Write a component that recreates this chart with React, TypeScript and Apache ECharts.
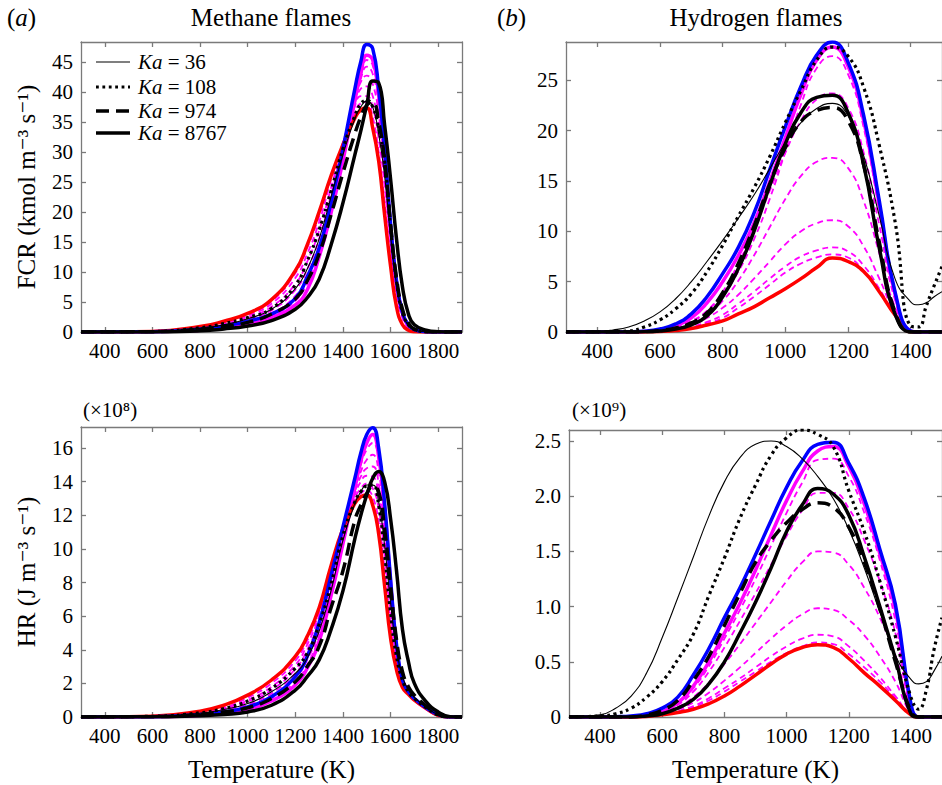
import React, { useEffect, useRef } from 'react';
import * as echarts from 'echarts';

const FONT = '"Liberation Serif", "Times New Roman", "DejaVu Serif", serif';

// ---------- Methane flames: temperature grid (K)
const T_CH4 = [300, 600, 800, 900, 1000, 1100, 1200, 1250, 1300, 1350, 1400, 1450, 1475, 1500, 1525, 1550, 1575, 1600, 1625, 1650, 1675, 1700, 1750, 1800, 1850, 1900];

// Methane FCR (kmol m^-3 s^-1)
const CH4_FCR_RED = [0, 0.1, 0.9, 1.8, 3.1, 5.4, 10.2, 14.5, 20.0, 26.0, 31.2, 35.6, 37.0, 37.3, 34.0, 28.5, 19.5, 11.0, 4.2, 1.2, 0.3, 0.05, 0, 0, 0, 0];
const CH4_FCR_BLUE = [0, 0.05, 0.5, 1.0, 1.8, 3.0, 5.6, 9.2, 14.0, 21.5, 30.5, 40.5, 45.0, 47.9, 47.2, 40.5, 30.5, 18.0, 8.5, 3.2, 1.2, 0.4, 0.06, 0, 0, 0];
const CH4_FCR_MAG = [0, 0.03, 0.3, 0.7, 1.3, 2.4, 4.5, 7.0, 12.5, 19.8, 28.5, 38.5, 43.0, 46.1, 45.3, 39.5, 30.0, 17.5, 8.3, 3.2, 1.1, 0.35, 0.05, 0, 0, 0];
const CH4_FCR_KA36 = [0, 0.07, 0.6, 1.2, 2.2, 3.8, 7.2, 10.5, 15.5, 22.5, 29.5, 35.5, 37.5, 38.5, 37.5, 33.0, 26.0, 16.0, 8.0, 3.2, 1.1, 0.35, 0.03, 0, 0, 0];
const CH4_FCR_KA108 = [0, 0.08, 0.7, 1.4, 2.4, 3.9, 7.8, 11.8, 17.0, 23.5, 30.5, 36.0, 38.0, 38.6, 37.5, 34.0, 28.5, 17.5, 8.5, 3.2, 1.2, 0.4, 0.05, 0, 0, 0];
const CH4_FCR_KA974 = [0, 0.05, 0.45, 0.9, 1.6, 3.0, 5.5, 8.5, 13.0, 19.5, 26.5, 33.0, 35.8, 37.8, 38.2, 35.0, 28.5, 18.0, 9.0, 3.8, 1.5, 0.5, 0.05, 0, 0, 0];
const CH4_FCR_KA8767 = [0, 0.02, 0.2, 0.5, 1.0, 1.9, 3.8, 5.7, 8.8, 14.5, 21.5, 29.5, 33.5, 37.8, 41.8, 41.5, 34.5, 25.5, 15.5, 7.5, 3.0, 1.2, 0.3, 0.05, 0, 0];
const CH4_FCR_MD1 = [0, 0.03, 0.35, 0.8, 1.5, 2.7, 5.2, 8.2, 13.0, 20.5, 29.3, 38.6, 42.6, 45.3, 44.4, 39.0, 29.5, 17.8, 8.5, 3.3, 1.1, 0.35, 0.05, 0, 0, 0];
const CH4_FCR_MD2 = [0, 0.04, 0.4, 0.9, 1.8, 3.1, 6.0, 9.2, 14.2, 21.6, 30.0, 38.7, 42.2, 44.2, 43.0, 37.8, 28.6, 17.2, 8.2, 3.2, 1.1, 0.35, 0.05, 0, 0, 0];
const CH4_FCR_MD3 = [0, 0.05, 0.5, 1.05, 2.1, 3.6, 7.0, 10.4, 15.5, 22.8, 30.7, 38.6, 41.6, 42.7, 41.3, 36.2, 27.5, 16.6, 8.0, 3.1, 1.0, 0.3, 0.05, 0, 0, 0];
const CH4_FCR_MD4 = [0, 0.06, 0.6, 1.2, 2.4, 4.2, 8.0, 11.7, 16.9, 24.0, 31.2, 38.2, 40.5, 40.9, 39.3, 34.2, 26.0, 15.8, 7.6, 3.0, 1.0, 0.3, 0.04, 0, 0, 0];
const CH4_FCR_MD5 = [0, 0.07, 0.7, 1.4, 2.7, 4.7, 9.0, 13.0, 18.3, 25.3, 31.6, 37.6, 39.3, 39.3, 37.4, 32.2, 24.3, 14.6, 7.0, 2.7, 0.9, 0.25, 0.03, 0, 0, 0];
const CH4_FCR_MD6 = [0, 0.08, 0.8, 1.6, 2.9, 5.1, 9.8, 14.0, 19.3, 25.8, 31.3, 36.5, 38.1, 38.3, 35.8, 30.0, 22.0, 13.2, 6.2, 2.3, 0.7, 0.2, 0.02, 0, 0, 0];

// Methane HR (x1e8 J m^-3 s^-1)
const CH4_HR_RED = [0, 0.05, 0.35, 0.7, 1.3, 2.2, 3.6, 4.8, 6.5, 9.0, 11.2, 12.7, 13.1, 13.2, 12.6, 10.9, 7.8, 4.7, 2.8, 1.75, 1.35, 1.0, 0.5, 0.1, 0, 0];
const CH4_HR_BLUE = [0, 0.02, 0.15, 0.3, 0.6, 1.2, 2.4, 3.6, 5.6, 8.4, 11.3, 14.2, 15.7, 16.8, 17.2, 16.0, 12.7, 8.2, 4.3, 2.2, 1.5, 1.1, 0.55, 0.15, 0, 0];
const CH4_HR_MAG = [0, 0.015, 0.1, 0.22, 0.45, 0.95, 1.9, 2.9, 4.5, 7.2, 10.3, 13.6, 15.2, 16.3, 16.8, 15.5, 12.4, 8.0, 4.1, 2.1, 1.45, 1.05, 0.5, 0.12, 0, 0];
const CH4_HR_KA36 = [0, 0.03, 0.22, 0.45, 0.8, 1.5, 2.6, 3.5, 5.1, 7.5, 10.5, 12.7, 13.4, 13.8, 13.8, 12.8, 10.2, 6.8, 4.0, 2.4, 1.6, 1.15, 0.6, 0.13, 0, 0];
const CH4_HR_KA108 = [0, 0.04, 0.25, 0.5, 0.95, 1.7, 2.9, 3.8, 5.5, 7.9, 10.8, 12.8, 13.4, 13.75, 13.8, 12.6, 9.7, 6.2, 3.6, 2.2, 1.5, 1.1, 0.55, 0.12, 0, 0];
const CH4_HR_KA974 = [0, 0.02, 0.15, 0.3, 0.55, 1.1, 2.1, 3.0, 4.2, 6.5, 8.7, 11.7, 12.6, 13.3, 13.7, 13.4, 11.2, 7.8, 4.6, 2.7, 1.8, 1.3, 0.65, 0.15, 0, 0];
const CH4_HR_KA8767 = [0, 0.01, 0.08, 0.15, 0.3, 0.7, 1.6, 2.4, 3.4, 5.2, 7.5, 10.6, 12.0, 13.2, 14.2, 14.6, 14.0, 11.8, 8.7, 5.2, 3.3, 2.0, 0.9, 0.3, 0.02, 0];
const CH4_HR_MD1 = [0, 0.02, 0.12, 0.26, 0.55, 1.1, 2.1, 3.1, 4.8, 7.5, 10.5, 13.6, 15.0, 15.9, 16.3, 15.3, 12.1, 7.9, 4.3, 2.4, 1.6, 1.15, 0.55, 0.12, 0, 0];
const CH4_HR_MD2 = [0, 0.02, 0.15, 0.3, 0.65, 1.25, 2.35, 3.4, 5.1, 7.8, 10.7, 13.5, 14.6, 15.3, 15.6, 14.6, 11.6, 7.6, 4.1, 2.3, 1.55, 1.1, 0.55, 0.12, 0, 0];
const CH4_HR_MD3 = [0, 0.02, 0.17, 0.35, 0.75, 1.4, 2.6, 3.7, 5.4, 8.1, 10.9, 13.4, 14.3, 14.8, 14.9, 13.9, 11.0, 7.2, 3.9, 2.2, 1.5, 1.1, 0.55, 0.12, 0, 0];
const CH4_HR_MD4 = [0, 0.03, 0.2, 0.42, 0.9, 1.6, 2.85, 4.0, 5.7, 8.3, 11.0, 13.2, 14.0, 14.35, 14.3, 13.2, 10.4, 6.8, 3.7, 2.1, 1.45, 1.05, 0.55, 0.12, 0, 0];
const CH4_HR_MD5 = [0, 0.03, 0.23, 0.48, 1.0, 1.8, 3.1, 4.3, 6.0, 8.6, 11.1, 13.0, 13.6, 13.9, 13.6, 12.4, 9.6, 6.3, 3.4, 2.0, 1.4, 1.05, 0.55, 0.12, 0, 0];
const CH4_HR_MD6 = [0, 0.04, 0.27, 0.55, 1.15, 2.0, 3.35, 4.55, 6.2, 8.8, 11.1, 12.8, 13.3, 13.5, 13.1, 11.6, 8.8, 5.7, 3.1, 1.9, 1.4, 1.05, 0.5, 0.1, 0, 0];

// ---------- Hydrogen flames: temperature grid (K)
const T_H2 = [300, 400, 450, 500, 550, 600, 650, 700, 750, 800, 850, 900, 950, 1000, 1050, 1100, 1150, 1200, 1250, 1300, 1350, 1400, 1425, 1450, 1475, 1500];

// Hydrogen FCR
const H2_FCR_RED = [0, 0, 0, 0, 0.01, 0.05, 0.15, 0.35, 0.7, 1.1, 1.8, 2.5, 3.4, 4.3, 5.3, 6.4, 7.35, 7.0, 6.0, 4.0, 1.7, 0.02, 0, 0, 0, 0];
const H2_FCR_BLUE = [0, 0, 0.005, 0.02, 0.08, 0.3, 0.8, 1.8, 3.5, 5.8, 8.4, 11.8, 16.1, 20.4, 24.4, 27.5, 28.8, 26.8, 21.5, 13.0, 4.0, 0.1, 0, 0, 0, 0];
const H2_FCR_MAG = [0, 0, 0, 0.01, 0.05, 0.2, 0.6, 1.4, 2.9, 5.0, 7.6, 10.8, 14.9, 19.3, 23.6, 27.0, 28.3, 26.4, 21.0, 12.6, 3.8, 0.1, 0, 0, 0, 0];
const H2_FCR_KA36 = [0, 0.05, 0.2, 0.5, 1.1, 2.0, 3.3, 5.0, 7.0, 9.1, 11.3, 13.6, 16.2, 18.8, 20.8, 22.2, 22.7, 21.5, 17.5, 11.5, 5.3, 3.0, 2.7, 2.9, 3.5, 4.0];
const H2_FCR_KA108 = [0, 0, 0.03, 0.1, 0.5, 1.2, 2.3, 3.8, 6.0, 8.6, 11.5, 14.3, 17.4, 20.8, 24.0, 27.0, 28.3, 27.4, 24.3, 18.5, 11.0, 0.6, 0.5, 2.6, 4.6, 6.5];
const H2_FCR_KA974 = [0, 0, 0, 0, 0.03, 0.15, 0.4, 0.9, 1.9, 3.9, 6.8, 10.5, 14.7, 18.3, 20.9, 22.0, 22.3, 21.0, 16.6, 8.9, 2.0, 0, 0, 0, 0, 0];
const H2_FCR_KA8767 = [0, 0, 0, 0, 0.02, 0.1, 0.3, 0.7, 1.6, 3.5, 6.3, 10.0, 14.5, 18.7, 21.8, 23.3, 23.5, 21.8, 16.6, 8.3, 1.8, 0, 0, 0, 0, 0];
const H2_FCR_MD1 = [0, 0, 0, 0.01, 0.05, 0.2, 0.55, 1.1, 2.1, 3.7, 6.0, 9.2, 13.2, 17.9, 22.6, 26.2, 27.4, 25.6, 20.3, 12.0, 3.5, 0.1, 0, 0, 0, 0];
const H2_FCR_MD2 = [0, 0, 0, 0.01, 0.04, 0.15, 0.45, 1.0, 2.1, 4.0, 6.8, 10.2, 14.0, 17.8, 21.0, 23.1, 23.7, 22.3, 17.8, 10.6, 3.2, 0.1, 0, 0, 0, 0];
const H2_FCR_MD3 = [0, 0, 0, 0.01, 0.03, 0.12, 0.35, 0.8, 1.7, 3.1, 5.1, 7.6, 10.4, 13.2, 15.5, 16.9, 17.3, 16.3, 13.0, 7.8, 2.5, 0.05, 0, 0, 0, 0];
const H2_FCR_MD4 = [0, 0, 0, 0, 0.02, 0.1, 0.3, 0.7, 1.4, 2.4, 3.7, 5.3, 7.0, 8.7, 10.0, 10.8, 11.1, 10.5, 8.5, 5.3, 1.9, 0.05, 0, 0, 0, 0];
const H2_FCR_MD5 = [0, 0, 0, 0, 0.02, 0.08, 0.22, 0.5, 1.0, 1.7, 2.8, 4.0, 5.3, 6.5, 7.5, 8.1, 8.4, 8.0, 6.6, 4.3, 1.7, 0.05, 0, 0, 0, 0];
const H2_FCR_MD6 = [0, 0, 0, 0, 0.01, 0.07, 0.2, 0.45, 0.85, 1.4, 2.4, 3.5, 4.7, 5.9, 6.8, 7.4, 7.7, 7.4, 6.1, 4.1, 1.7, 0.05, 0, 0, 0, 0];

// Hydrogen HR (x1e9 J m^-3 s^-1)
const H2_HR_RED = [0, 0, 0, 0, 0.005, 0.02, 0.04, 0.07, 0.12, 0.19, 0.28, 0.38, 0.48, 0.57, 0.63, 0.655, 0.63, 0.53, 0.4, 0.28, 0.15, 0.02, 0, 0, 0, 0];
const H2_HR_BLUE = [0, 0, 0.003, 0.01, 0.03, 0.08, 0.18, 0.38, 0.62, 0.9, 1.17, 1.47, 1.78, 2.08, 2.32, 2.47, 2.49, 2.3, 1.98, 1.52, 1.02, 0.12, 0, 0, 0, 0];
const H2_HR_MAG = [0, 0, 0, 0, 0.02, 0.05, 0.13, 0.28, 0.5, 0.76, 1.03, 1.33, 1.65, 1.96, 2.22, 2.41, 2.45, 2.27, 1.93, 1.48, 0.98, 0.1, 0, 0, 0, 0];
const H2_HR_KA36 = [0, 0.02, 0.08, 0.19, 0.4, 0.72, 1.08, 1.45, 1.82, 2.13, 2.35, 2.47, 2.5, 2.45, 2.34, 2.18, 1.98, 1.7, 1.35, 0.95, 0.56, 0.34, 0.3, 0.32, 0.42, 0.55];
const H2_HR_KA108 = [0, 0.01, 0.03, 0.08, 0.18, 0.32, 0.52, 0.75, 1.1, 1.44, 1.8, 2.1, 2.37, 2.53, 2.6, 2.56, 2.45, 2.05, 1.68, 1.23, 0.73, 0.18, 0.07, 0.25, 0.62, 0.9];
const H2_HR_KA974 = [0, 0, 0, 0, 0.02, 0.06, 0.15, 0.33, 0.55, 0.83, 1.12, 1.4, 1.6, 1.76, 1.88, 1.94, 1.9, 1.72, 1.4, 0.98, 0.5, 0.05, 0, 0, 0, 0];
const H2_HR_KA8767 = [0, 0, 0, 0, 0.01, 0.03, 0.08, 0.16, 0.3, 0.5, 0.76, 1.04, 1.35, 1.68, 1.92, 2.07, 2.02, 1.83, 1.45, 1.0, 0.53, 0.03, 0, 0, 0, 0];
const H2_HR_MD1 = [0, 0, 0, 0, 0.02, 0.05, 0.12, 0.26, 0.46, 0.71, 0.97, 1.25, 1.55, 1.85, 2.12, 2.33, 2.34, 2.18, 1.85, 1.42, 0.87, 0.08, 0, 0, 0, 0];
const H2_HR_MD2 = [0, 0, 0, 0, 0.015, 0.04, 0.11, 0.23, 0.41, 0.63, 0.87, 1.12, 1.38, 1.64, 1.87, 2.03, 2.03, 1.89, 1.6, 1.23, 0.76, 0.07, 0, 0, 0, 0];
const H2_HR_MD3 = [0, 0, 0, 0, 0.01, 0.04, 0.09, 0.18, 0.31, 0.48, 0.66, 0.85, 1.04, 1.23, 1.4, 1.5, 1.49, 1.38, 1.17, 0.9, 0.56, 0.05, 0, 0, 0, 0];
const H2_HR_MD4 = [0, 0, 0, 0, 0.01, 0.03, 0.07, 0.13, 0.22, 0.33, 0.45, 0.58, 0.71, 0.83, 0.93, 0.985, 0.97, 0.88, 0.74, 0.55, 0.32, 0.03, 0, 0, 0, 0];
const H2_HR_MD5 = [0, 0, 0, 0, 0.008, 0.025, 0.055, 0.1, 0.17, 0.26, 0.35, 0.45, 0.55, 0.64, 0.71, 0.745, 0.73, 0.64, 0.51, 0.36, 0.19, 0.02, 0, 0, 0, 0];
const H2_HR_MD6 = [0, 0, 0, 0, 0.006, 0.02, 0.05, 0.09, 0.15, 0.23, 0.32, 0.41, 0.5, 0.58, 0.64, 0.675, 0.66, 0.57, 0.45, 0.32, 0.17, 0.02, 0, 0, 0, 0];

// ---------- Tick labels
const X_TICKS_CH4 = [400, 600, 800, 1000, 1200, 1400, 1600, 1800];
const X_TICKS_H2 = [400, 600, 800, 1000, 1200, 1400];
const Y_TICKS_CH4_FCR = [0, 5, 10, 15, 20, 25, 30, 35, 40, 45];
const Y_TICKS_H2_FCR = [0, 5, 10, 15, 20, 25];
const Y_TICKS_CH4_HR = [0, 2, 4, 6, 8, 10, 12, 14, 16];
const Y_TICKS_H2_HR = [0, 0.5, 1.0, 1.5, 2.0, 2.5];

const LEGEND = ['36', '108', '974', '8767'];

type Sty = { color: string; width: number; type: any };
const STY: Record<string, Sty> = {
  md: { color: '#ff00ff', width: 1.8, type: [6, 4] },
  mag: { color: '#ff00ff', width: 3.5, type: 'solid' },
  red: { color: '#ff0000', width: 3.5, type: 'solid' },
  blue: { color: '#0000ff', width: 3.5, type: 'solid' },
  k36: { color: '#000000', width: 1.1, type: 'solid' },
  k108: { color: '#000000', width: 3.2, type: [2.8, 3.6] },
  k974: { color: '#000000', width: 3.5, type: [13, 7] },
  k8767: { color: '#000000', width: 3.5, type: 'solid' },
};

const zip = (t: number[], v: number[]) => t.map((x, i) => [x, v[i]]);

function panelSeries(gi: number, t: number[], sets: [string, string, number[]][]) {
  return sets.map(([name, sk, vals]) => {
    const s = STY[sk];
    return {
      type: 'line',
      name,
      xAxisIndex: gi * 2,
      yAxisIndex: gi * 2,
      data: zip(t, vals),
      symbol: 'none',
      smooth: 0.5,
      silent: true,
      clip: true,
      lineStyle: { color: s.color, width: s.width, type: s.type, cap: 'butt', join: 'round' },
    };
  });
}

const axisLineStyle = { color: '#7a7a7a', width: 1.3 };
const plainNum = (v: number) => String(v);

function xAxes(gi: number, min: number, max: number, ticks: number[], name?: string) {
  const base = {
    type: 'value',
    gridIndex: gi,
    min,
    max,
    splitLine: { show: false },
    axisLine: { show: true, onZero: false, lineStyle: axisLineStyle },
    axisTick: { show: true, inside: true, length: 5, lineStyle: axisLineStyle, customValues: ticks },
  };
  return [
    {
      ...base,
      position: 'bottom',
      axisLabel: {
        show: true,
        customValues: ticks,
        color: '#000',
        fontFamily: FONT,
        fontSize: 21,
        margin: 8,
        formatter: plainNum,
      },
      name: name || '',
      nameLocation: 'middle',
      nameGap: 40,
      nameTextStyle: { color: '#000', fontFamily: FONT, fontSize: 25 },
    },
    { ...base, position: 'top', axisLabel: { show: false, customValues: ticks } },
  ];
}

function yAxes(gi: number, max: number, ticks: number[], fmt?: (v: number) => string, name?: string) {
  const base = {
    type: 'value',
    gridIndex: gi,
    min: 0,
    max,
    splitLine: { show: false },
    axisLine: { show: true, onZero: false, lineStyle: axisLineStyle },
    axisTick: { show: true, inside: true, length: 5, lineStyle: axisLineStyle, customValues: ticks },
  };
  return [
    {
      ...base,
      position: 'left',
      axisLabel: {
        show: true,
        customValues: ticks,
        color: '#000',
        fontFamily: FONT,
        fontSize: 21,
        margin: 8,
        formatter: fmt || plainNum,
      },
      name: name || '',
      nameLocation: 'middle',
      nameRotate: 90,
      nameGap: 42,
      nameTextStyle: { color: '#000', fontFamily: FONT, fontSize: 25 },
    },
    { ...base, position: 'right', axisLabel: { show: false, customValues: ticks } },
  ];
}

const series = [
  ...panelSeries(0, T_CH4, [
    ['m1', 'md', CH4_FCR_MD1], ['m2', 'md', CH4_FCR_MD2], ['m3', 'md', CH4_FCR_MD3],
    ['m4', 'md', CH4_FCR_MD4], ['m5', 'md', CH4_FCR_MD5], ['m6', 'md', CH4_FCR_MD6],
    ['mag', 'mag', CH4_FCR_MAG], ['red', 'red', CH4_FCR_RED], ['blue', 'blue', CH4_FCR_BLUE],
    ['Ka = 36', 'k36', CH4_FCR_KA36], ['Ka = 108', 'k108', CH4_FCR_KA108],
    ['Ka = 974', 'k974', CH4_FCR_KA974], ['Ka = 8767', 'k8767', CH4_FCR_KA8767],
  ]),
  ...panelSeries(1, T_H2, [
    ['m1', 'md', H2_FCR_MD1], ['m2', 'md', H2_FCR_MD2], ['m3', 'md', H2_FCR_MD3],
    ['m4', 'md', H2_FCR_MD4], ['m5', 'md', H2_FCR_MD5], ['m6', 'md', H2_FCR_MD6],
    ['mag', 'mag', H2_FCR_MAG], ['red', 'red', H2_FCR_RED], ['blue', 'blue', H2_FCR_BLUE],
    ['Ka = 36', 'k36', H2_FCR_KA36], ['Ka = 108', 'k108', H2_FCR_KA108],
    ['Ka = 974', 'k974', H2_FCR_KA974], ['Ka = 8767', 'k8767', H2_FCR_KA8767],
  ]),
  ...panelSeries(2, T_CH4, [
    ['m1', 'md', CH4_HR_MD1], ['m2', 'md', CH4_HR_MD2], ['m3', 'md', CH4_HR_MD3],
    ['m4', 'md', CH4_HR_MD4], ['m5', 'md', CH4_HR_MD5], ['m6', 'md', CH4_HR_MD6],
    ['mag', 'mag', CH4_HR_MAG], ['red', 'red', CH4_HR_RED], ['blue', 'blue', CH4_HR_BLUE],
    ['Ka = 36', 'k36', CH4_HR_KA36], ['Ka = 108', 'k108', CH4_HR_KA108],
    ['Ka = 974', 'k974', CH4_HR_KA974], ['Ka = 8767', 'k8767', CH4_HR_KA8767],
  ]),
  ...panelSeries(3, T_H2, [
    ['m1', 'md', H2_HR_MD1], ['m2', 'md', H2_HR_MD2], ['m3', 'md', H2_HR_MD3],
    ['m4', 'md', H2_HR_MD4], ['m5', 'md', H2_HR_MD5], ['m6', 'md', H2_HR_MD6],
    ['mag', 'mag', H2_HR_MAG], ['red', 'red', H2_HR_RED], ['blue', 'blue', H2_HR_BLUE],
    ['Ka = 36', 'k36', H2_HR_KA36], ['Ka = 108', 'k108', H2_HR_KA108],
    ['Ka = 974', 'k974', H2_HR_KA974], ['Ka = 8767', 'k8767', H2_HR_KA8767],
  ]),
];

const legendStyles = ['k36', 'k108', 'k974', 'k8767'];
const legendYs = [62, 87, 111, 133];
const legendGraphics: any[] = [];
LEGEND.forEach((lab, i) => {
  const s = STY[legendStyles[i]];
  legendGraphics.push({
    type: 'line',
    shape: { x1: 96, y1: legendYs[i], x2: 130, y2: legendYs[i] },
    style: { stroke: s.color, lineWidth: s.width, lineDash: Array.isArray(s.type) ? s.type : null },
    silent: true,
  });
  legendGraphics.push({
    type: 'text',
    x: 138,
    y: legendYs[i],
    style: {
      text: '{i|Ka} = ' + lab,
      fill: '#000',
      font: `21px ${FONT}`,
      verticalAlign: 'middle',
      rich: { i: { fontStyle: 'italic', fontSize: 21, fontFamily: FONT } },
    },
    silent: true,
  });
});

const textG = (x: number, y: number, text: string, size: number, align = 'left', rich?: any) => ({
  type: 'text',
  x,
  y,
  silent: true,
  style: { text, fill: '#000', font: `${size}px ${FONT}`, align, verticalAlign: 'middle', rich },
});

const option: any = {
  animation: false,
  backgroundColor: '#ffffff',
  grid: [
    { left: 81, top: 42, width: 381, height: 290 },
    { left: 566, top: 42, width: 383, height: 290 },
    { left: 81, top: 427, width: 381, height: 290 },
    { left: 569, top: 430, width: 380, height: 287 },
  ],
  xAxis: [
    ...xAxes(0, 300, 1900, X_TICKS_CH4),
    ...xAxes(1, 300, 1500, X_TICKS_H2),
    ...xAxes(2, 300, 1900, X_TICKS_CH4, 'Temperature (K)'),
    ...xAxes(3, 300, 1500, X_TICKS_H2, 'Temperature (K)'),
  ],
  yAxis: [
    ...yAxes(0, 48.3, Y_TICKS_CH4_FCR, undefined, 'FCR (kmol m⁻³ s⁻¹)'),
    ...yAxes(1, 28.8, Y_TICKS_H2_FCR),
    ...yAxes(2, 17.25, Y_TICKS_CH4_HR, undefined, 'HR (J m⁻³ s⁻¹)'),
    ...yAxes(3, 2.6, Y_TICKS_H2_HR, (v: number) => (v === 0 ? '0' : v.toFixed(1))),
  ],
  series,
  graphic: [
    textG(7, 17, '({i|a})', 25, 'left', { i: { fontStyle: 'italic', fontSize: 25, fontFamily: FONT } }),
    textG(271, 17, 'Methane flames', 25, 'center'),
    textG(497, 17, '({i|b})', 25, 'left', { i: { fontStyle: 'italic', fontSize: 25, fontFamily: FONT } }),
    textG(756, 17, 'Hydrogen flames', 25, 'center'),
    textG(83, 410, '(×10⁸)', 21),
    textG(572, 410, '(×10⁹)', 21),
    ...legendGraphics,
  ],
};

export default function App() {
  const ref = useRef<HTMLDivElement>(null);
  useEffect(() => {
    if (!ref.current) return;
    const chart = echarts.init(ref.current, null, { renderer: 'svg' });
    chart.setOption(option);
    return () => chart.dispose();
  }, []);
  return (
    <div
      ref={ref}
      style={{ position: 'absolute', left: 0, top: 0, width: 942, height: 785, background: '#fff' }}
    />
  );
}
